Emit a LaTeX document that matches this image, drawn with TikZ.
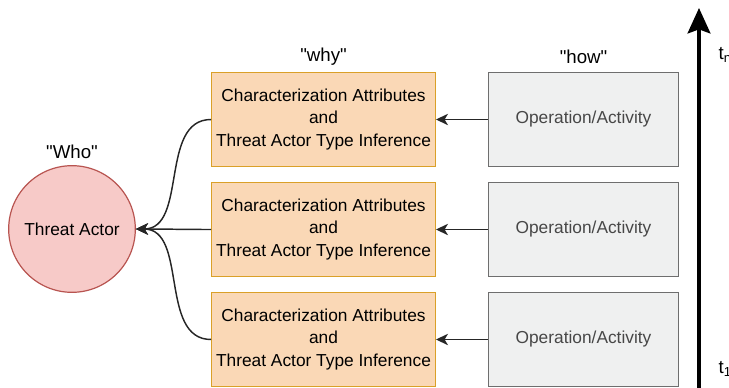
\documentclass[tikz,border=0pt]{standalone}
\usepackage{fontspec}
\setsansfont{Liberation Sans}[Ligatures=TeXOff]
\usetikzlibrary{arrows.meta}
\definecolor{attrFill}{RGB}{250,216,182}
\definecolor{attrLine}{RGB}{218,160,40}
\definecolor{actFill}{RGB}{239,240,240}
\definecolor{actLine}{RGB}{110,110,110}
\definecolor{whoFill}{RGB}{247,202,200}
\definecolor{whoLine}{RGB}{184,84,80}
\newcommand{\figArrow}{{Stealth[length=9pt, width=8.5pt, inset=2.5pt]}}
\newcommand{\timeArrow}{{Stealth[length=19pt, width=17pt, inset=3pt]}}

\begin{document}
\begin{tikzpicture}[font=\sffamily, x=0.75pt, y=0.75pt,
	attrbox/.style={draw=attrLine, fill=attrFill, line width=0.9pt, minimum width=165pt, minimum height=71pt, align=center, font=\sffamily\fontsize{13}{17.2}\selectfont},
	actbox/.style={draw=actLine, fill=actFill, line width=0.9pt, minimum width=143pt, minimum height=71pt, text=black!72, font=\sffamily\fontsize{13}{16}\selectfont},
	actor/.style={circle, draw=whoLine, fill=whoFill, line width=0.9pt, minimum size=95pt, inner sep=0pt, font=\sffamily\fontsize{13}{16}\selectfont},
	heading/.style={font=\sffamily\fontsize{14}{17}\selectfont},
	edge/.style={draw=black!85, line width=1.1pt}]
	\def\xWhy{323.5}
	\def\xHow{583.5}
	
	\useasboundingbox (0,0) rectangle (729,387);
	\clip (0,0) rectangle (729,387);
	
	\node[actor] (TA) at (72,158) {Threat Actor};
	\node[heading] (who) at (72,235) {"Who"};
	\node[heading] (why) at (\xWhy,330) {"why"};
	\node[heading] (how) at (\xHow,330) {"how"};
	
	\foreach \row/\y in {top/267.5, mid/157.5, bot/47.5} {
		\node[attrbox] (why-\row) at (\xWhy,\y) {Characterization Attributes\\and\\Threat Actor Type Inference};
		\node[actbox] (how-\row) at (\xHow,\y) {Operation/Activity};
		\draw[edge, -\figArrow]	(how-\row) -- (why-\row);
		\draw[edge, -\figArrow]	(why-\row.west) to[out=180, in=0] (TA.east);
	}
	
	\coordinate (T0) at (699,-10);
	\coordinate (T1) at (699,379);
	\draw[line width=3pt, -\timeArrow]	(T0) -- (T1);
	\node[heading, anchor=west] (tn) at (714,332) {t\textsubscript{n}};
	\node[heading, anchor=west] (t1) at (714,18) {t\textsubscript{1}};

\end{tikzpicture}
\end{document}
